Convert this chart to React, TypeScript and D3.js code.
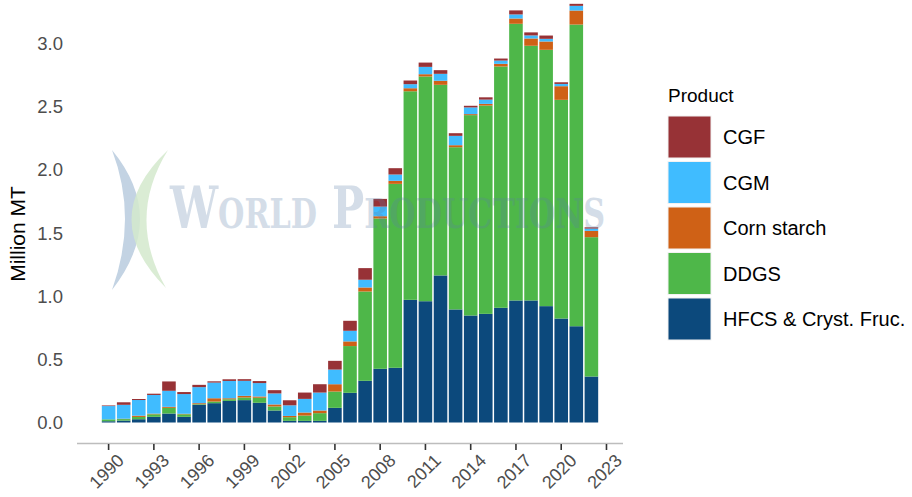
import * as React from 'react'
import { useEffect, useRef } from 'react'
import * as d3 from 'd3'

const years = [1990, 1991, 1992, 1993, 1994, 1995, 1996, 1997, 1998, 1999, 2000, 2001, 2002, 2003, 2004, 2005, 2006,
  2007, 2008, 2009, 2010, 2011, 2012, 2013, 2014, 2015, 2016, 2017, 2018, 2019, 2020, 2021, 2022]

const hfcs = [0.010, 0.015, 0.026, 0.045, 0.071, 0.045, 0.140, 0.153, 0.171, 0.177, 0.156, 0.095, 0.013, 0.013, 0.013,
  0.116, 0.235, 0.330, 0.425, 0.433, 0.971, 0.960, 1.164, 0.895, 0.847, 0.860, 0.908, 0.966, 0.966, 0.921, 0.823, 0.762, 0.364]
const ddgs = [0.015, 0.012, 0.018, 0.020, 0.045, 0.020, 0.005, 0.013, 0.013, 0.021, 0.040, 0.032, 0.029, 0.042, 0.061,
  0.129, 0.370, 0.707, 1.190, 1.456, 1.651, 1.779, 1.509, 1.284, 1.586, 1.649, 1.910, 2.190, 2.016, 2.029, 1.731, 2.388, 1.103]
const starch = [0, 0.003, 0.010, 0.005, 0.008, 0.004, 0.008, 0.026, 0.008, 0.013, 0.010, 0.016, 0.010, 0.024, 0.021,
  0.058, 0.037, 0.032, 0.018, 0.024, 0.024, 0.018, 0.032, 0.016, 0.008, 0.013, 0.021, 0.042, 0.058, 0.066, 0.108, 0.111, 0.050]
const cgm = [0.105, 0.110, 0.124, 0.148, 0.127, 0.156, 0.127, 0.124, 0.137, 0.119, 0.106, 0.087, 0.084, 0.108, 0.142,
  0.116, 0.084, 0.061, 0.076, 0.050, 0.032, 0.058, 0.055, 0.074, 0.053, 0.034, 0.026, 0.032, 0.024, 0.021, 0.018, 0.037, 0.018]
const cgf = [0.005, 0.020, 0.008, 0.010, 0.074, 0.016, 0.018, 0.010, 0.013, 0.013, 0.016, 0.026, 0.040, 0.050, 0.066,
  0.069, 0.079, 0.092, 0.061, 0.050, 0.029, 0.034, 0.029, 0.021, 0.013, 0.018, 0.016, 0.032, 0.024, 0.026, 0.013, 0.016, 0.010]

const xTicks = [1990, 1993, 1996, 1999, 2002, 2005, 2008, 2011, 2014, 2017, 2020, 2023]
const yTicks = [0, 0.5, 1, 1.5, 2, 2.5, 3]

// stacking order bottom -> top
const stackKeys = ['hfcs', 'ddgs', 'starch', 'cgm', 'cgf']
const legendKeys = ['cgf', 'cgm', 'starch', 'ddgs', 'hfcs']
const labels: Record<string, string> = {
  cgf: 'CGF', cgm: 'CGM', starch: 'Corn starch', ddgs: 'DDGS', hfcs: 'HFCS & Cryst. Fruc.',
}
const colors: Record<string, string> = {
  cgf: '#973236', cgm: '#40bcff', starch: '#cf6116', ddgs: '#4eb749', hfcs: '#0c497c',
}

const W = 912
const H = 497

const App = () => {
  const ref = useRef<HTMLDivElement | null>(null)

  useEffect(() => {
    const svg = d3.select(ref.current)
      .append('svg')
      .attr('width', W)
      .attr('height', H)
      .style('position', 'absolute')
      .style('left', 0)
      .style('top', 0)
      .style('font-family', 'Arial, "Liberation Sans", sans-serif')

    svg.append('rect').attr('width', W).attr('height', H).attr('fill', '#fff')

    const rows = years.map((yr, i) => ({
      year: yr, hfcs: hfcs[i], ddgs: ddgs[i], starch: starch[i], cgm: cgm[i], cgf: cgf[i],
    }))

    // continuous x with ggplot-like 5% expansion
    const x = d3.scaleLinear().domain([1987.905, 2024.095]).range([77, 623])
    const y = d3.scaleLinear().domain([0, 3]).range([422.5, 43.5])
    const bw = (x(1991) - x(1990)) * 0.9

    const series = d3.stack<any>().keys(stackKeys)(rows)

    // watermark logo (behind)
    const wm = svg.append('g')
    wm.append('path')
      .attr('d', 'M112,150 Q168,218 112,290 Q138,218 112,150 Z')
      .attr('fill', '#c3d3e3')
    wm.append('path')
      .attr('d', 'M168,150 Q96,218 166,288 Q126,218 168,150 Z')
      .attr('fill', '#d3e9cc')
      .attr('opacity', 0.85)

    const g = svg.append('g')
    g.selectAll('g.layer')
      .data(series)
      .enter()
      .append('g')
      .attr('class', 'layer')
      .attr('fill', (d: any) => colors[d.key])
      .selectAll('rect')
      .data((d: any) => d)
      .enter()
      .append('rect')
      .attr('x', (d: any) => x(d.data.year) - bw / 2)
      .attr('width', bw)
      .attr('y', (d: any) => y(d[1]))
      .attr('height', (d: any) => Math.max(0, y(d[0]) - y(d[1])))

    // watermark text (over bars, faint)
    svg.append('text')
      .attr('x', 170)
      .attr('y', 228)
      .attr('font-family', '"DejaVu Serif", "Liberation Serif", serif')
      .attr('font-size', 58)
      .attr('font-weight', 'bold')
      .style('font-variant', 'small-caps')
      .attr('fill', '#5b80a8')
      .attr('opacity', 0.26)
      .attr('textLength', 435)
      .attr('lengthAdjust', 'spacingAndGlyphs')
      .text('World Productions')

    // x axis
    svg.append('line')
      .attr('x1', 77).attr('x2', 623)
      .attr('y1', 443.5).attr('y2', 443.5)
      .attr('stroke', '#bdbdbd').attr('stroke-width', 1.6)
    svg.selectAll('line.xt')
      .data(xTicks)
      .enter()
      .append('line')
      .attr('class', 'xt')
      .attr('x1', (d) => x(d)).attr('x2', (d) => x(d))
      .attr('y1', 444).attr('y2', 450)
      .attr('stroke', '#333').attr('stroke-width', 1.6)
    svg.selectAll('text.xl')
      .data(xTicks)
      .enter()
      .append('text')
      .attr('class', 'xl')
      .attr('transform', (d) => `translate(${x(d) + 7}, 452) rotate(-45)`)
      .attr('text-anchor', 'end')
      .attr('dy', '0.75em')
      .attr('font-size', 18)
      .attr('fill', '#4d4d4d')
      .text((d) => String(d))

    // y axis labels
    svg.selectAll('text.yl')
      .data(yTicks)
      .enter()
      .append('text')
      .attr('class', 'yl')
      .attr('x', 63)
      .attr('y', (d) => y(d))
      .attr('dy', '0.36em')
      .attr('text-anchor', 'end')
      .attr('font-size', 18.5)
      .attr('fill', '#4d4d4d')
      .text((d) => d3.format('.1f')(d))

    svg.append('text')
      .attr('transform', 'translate(25, 234) rotate(-90)')
      .attr('text-anchor', 'middle')
      .attr('font-size', 21)
      .attr('fill', '#000')
      .text('Million MT')

    // legend
    const lg = svg.append('g').attr('transform', 'translate(668, 0)')
    lg.append('text')
      .attr('x', 0).attr('y', 102)
      .attr('font-size', 19)
      .attr('fill', '#000')
      .text('Product')
    const items = lg.selectAll('g.item')
      .data(legendKeys)
      .enter()
      .append('g')
      .attr('class', 'item')
      .attr('transform', (d, i) => `translate(0, ${116 + i * 45.5})`)
    items.append('rect')
      .attr('width', 43).attr('height', 42)
      .attr('fill', (d) => colors[d])
      .attr('stroke', '#f2f2f2').attr('stroke-width', 1)
    items.append('text')
      .attr('x', 55).attr('y', 21)
      .attr('dy', '0.36em')
      .attr('font-size', 20)
      .attr('fill', '#000')
      .text((d) => labels[d])

    return () => {
      svg.remove()
    }
  }, [])

  return <div ref={ref} />
}

export default App
